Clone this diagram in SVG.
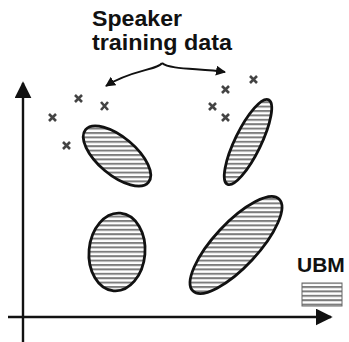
<svg xmlns="http://www.w3.org/2000/svg" width="349" height="342" viewBox="0 0 349 342">
  <style>
    .label { font-family: "Liberation Sans", Arial, sans-serif; font-weight: bold; fill: #111; }
    .blob { fill: url(#hatch); stroke: #111; stroke-width: 2.8; }
    .axis { stroke: #111; stroke-width: 2.4; fill: none; }
    .cross { stroke: #444; stroke-width: 2.6; stroke-linecap: butt; }
    .curve { stroke: #111; stroke-width: 2; fill: none; }
  </style>
  <defs>
    <pattern id="hatch" patternUnits="userSpaceOnUse" width="6" height="4.4">
      <rect width="6" height="4.4" fill="#fff"/>
      <rect y="0" width="6" height="2" fill="#7d7d7d"/>
    </pattern>
    <marker id="head" viewBox="0 0 10 10" refX="9" refY="5" markerWidth="10" markerHeight="10" markerUnits="userSpaceOnUse" orient="auto">
      <path d="M0,0 L10,5 L0,10 z" fill="#111"/>
    </marker>
    <marker id="axhead" viewBox="0 0 10 10" refX="9" refY="5" markerWidth="17" markerHeight="17" markerUnits="userSpaceOnUse" orient="auto">
      <path d="M0,0 L10,5 L0,10 z" fill="#111"/>
    </marker>
  </defs>

  <g id="title">
    <text class="label" x="92" y="26" font-size="22" textLength="90" lengthAdjust="spacingAndGlyphs">Speaker</text>
    <text class="label" x="92" y="50" font-size="22" textLength="140" lengthAdjust="spacingAndGlyphs">training data</text>
  </g>

  <g id="connectors">
    <path class="curve" d="M162,63 C158,70 130,70 106,86" marker-end="url(#head)"/>
    <path class="curve" d="M162,63 C170,70 200,68 225,72" marker-end="url(#head)"/>
  </g>

  <g id="axes">
    <line class="axis" x1="23" y1="342" x2="23" y2="83" marker-end="url(#axhead)"/>
    <line class="axis" x1="8" y1="317" x2="331" y2="317" marker-end="url(#axhead)"/>
  </g>

  <g id="speaker-points">
    <path class="cross" d="M75,95 l7,7 M82,95 l-7,7"/>
    <path class="cross" d="M49,114 l7,7 M56,114 l-7,7"/>
    <path class="cross" d="M101,102 l7,8 M108,102 l-7,8"/>
    <path class="cross" d="M63,142 l7,7 M70,142 l-7,7"/>
    <path class="cross" d="M250,76 l7,7 M257,76 l-7,7"/>
    <path class="cross" d="M222,86 l7,7 M229,86 l-7,7"/>
    <path class="cross" d="M209,103 l7,7 M216,103 l-7,7"/>
    <path class="cross" d="M222,114 l7,7 M229,114 l-7,7"/>
  </g>

  <g id="cluster-top-left">
    <path class="blob" d="M85.6,129.6 A41,19 40 1 0 148.4,182.4 A41,19 40 1 0 85.6,129.6 Z"/>
  </g>
  <g id="cluster-top-right">
    <path class="blob" d="M268.6,99.7 A47,13 -64 1 0 227.4,184.3 A47,13 -64 1 0 268.6,99.7 Z"/>
  </g>
  <g id="cluster-bottom-left">
    <path class="blob" d="M144.9,254.4 A28,39 5 1 0 89.1,249.6 A28,39 5 1 0 144.9,254.4 Z"/>
  </g>
  <g id="cluster-bottom-right">
    <path class="blob" d="M279,198.9 A63,22 -47 1 0 193,291.1 A63,22 -47 1 0 279,198.9 Z"/>
  </g>

  <g id="legend">
    <text class="label" x="297" y="272" font-size="21">UBM</text>
    <rect x="302" y="283" width="40" height="23" fill="url(#hatch)" stroke="#666" stroke-width="1"/>
  </g>
</svg>
